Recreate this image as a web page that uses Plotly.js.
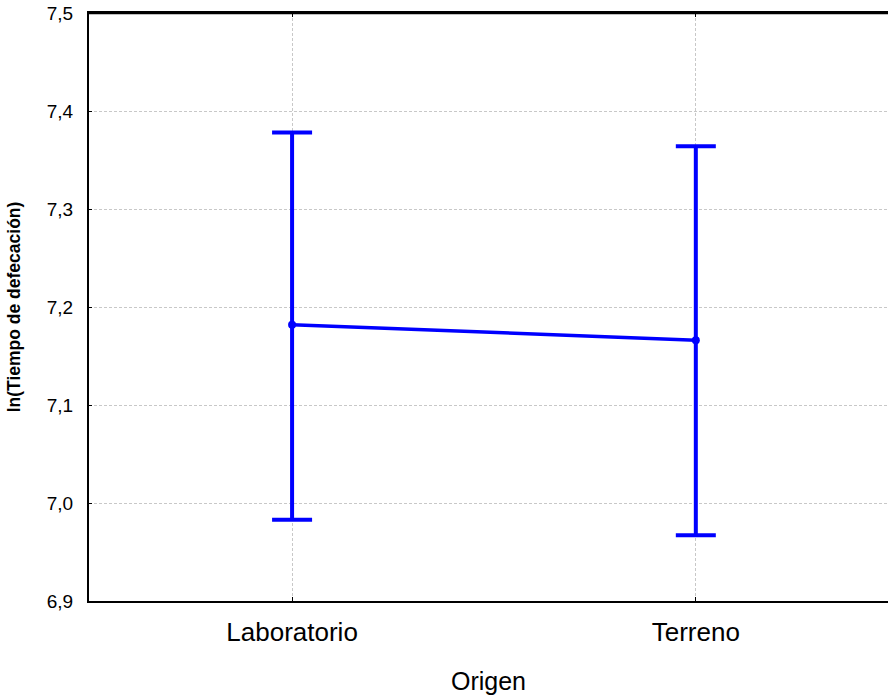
<!DOCTYPE html>
<html>
<head>
<meta charset="utf-8">
<script src="https://cdn.plot.ly/plotly-3.0.1.min.js"></script>
<style>html,body{margin:0;padding:0;background:#fff;}#chart{width:888px;height:698px;}</style>
</head>
<body>
<div id="chart"></div>
<script>
const categories = ["Laboratorio", "Terreno"];
const means = [7.182, 7.166];
const upperLimits = [7.378, 7.364];
const lowerLimits = [6.983, 6.967];
const yTickValues = [6.9, 7.0, 7.1, 7.2, 7.3, 7.4, 7.5];
const yTickLabels = ["6,9", "7,0", "7,1", "7,2", "7,3", "7,4", "7,5"];

const errPlus = means.map((m, i) => upperLimits[i] - m);
const errMinus = means.map((m, i) => m - lowerLimits[i]);

const trace = {
  type: "scatter",
  mode: "lines+markers",
  x: categories,
  y: means,
  line: {color: "#0000ff", width: 3.5},
  marker: {color: "#0000ff", size: 8},
  error_y: {
    type: "data",
    symmetric: false,
    array: errPlus,
    arrayminus: errMinus,
    color: "#0000ff",
    thickness: 4,
    width: 20
  },
  hoverinfo: "x+y"
};

const layout = {
  width: 888,
  height: 698,
  margin: {l: 89, r: 0, t: 13, b: 97},
  paper_bgcolor: "#ffffff",
  plot_bgcolor: "#ffffff",
  showlegend: false,
  font: {family: "Liberation Sans, Arial, sans-serif", color: "#000"},
  shapes: [{
    type: "line", xref: "paper", yref: "paper",
    x0: 0, x1: 1, y0: 1, y1: 1,
    line: {color: "#000", width: 2.5}
  }],
  xaxis: {
    type: "category",
    range: [-0.503, 1.476],
    showline: true,
    linecolor: "#000",
    linewidth: 2,
    mirror: "ticks",
    ticks: "inside",
    ticklen: 4,
    tickwidth: 1,
    tickcolor: "#000",
    showgrid: true,
    gridcolor: "#c8c8c8",
    gridwidth: 1,
    griddash: "3px,2px",
    zeroline: false,
    tickfont: {size: 26, color: "#000"},
    ticklabelstandoff: 7,
    title: {text: "Origen", font: {size: 25, color: "#000"}, standoff: 26}
  },
  yaxis: {
    range: [6.9, 7.5],
    tickvals: yTickValues,
    ticktext: yTickLabels,
    showline: true,
    linecolor: "#000",
    linewidth: 2,
    mirror: false,
    ticks: "inside",
    ticklen: 3,
    tickwidth: 1,
    tickcolor: "#000",
    showgrid: true,
    gridcolor: "#c8c8c8",
    gridwidth: 1,
    griddash: "3px,2px",
    zeroline: false,
    tickfont: {size: 19, color: "#000"},
    ticklabelstandoff: 10,
    title: {text: "ln(Tiempo de defecación)", font: {size: 17.5, color: "#000", weight: "bold"}, standoff: 22}
  }
};

Plotly.newPlot("chart", [trace], layout, {displayModeBar: false, staticPlot: true});
</script>
</body>
</html>
